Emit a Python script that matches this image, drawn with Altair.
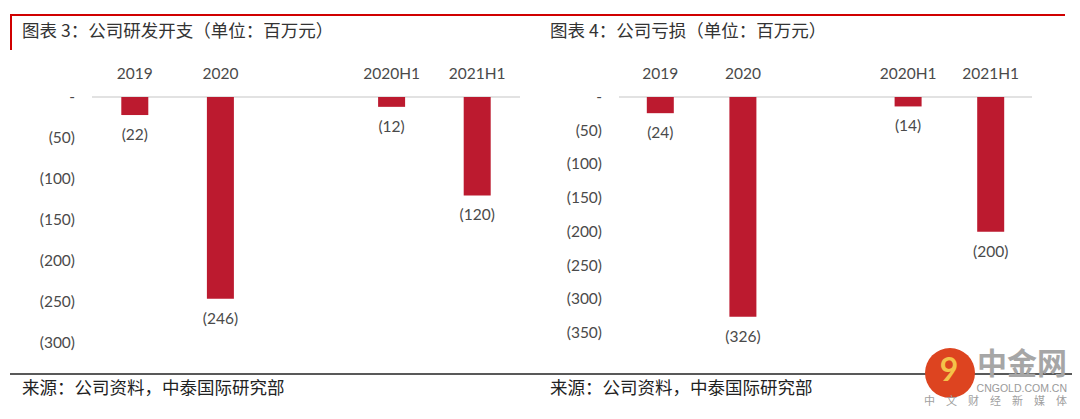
import altair as alt
import pandas as pd

# ---- data ----
categories = ["2019", "2020", " ", "2020H1", "2021H1"]
rd_values = [-22, -246, None, -12, -120]
loss_values = [-24, -326, None, -14, -200]
rd_ticks = [0, -50, -100, -150, -200, -250, -300]
loss_ticks = [0, -50, -100, -150, -200, -250, -300, -350]
titles = ["图表 3：公司研发开支（单位：百万元）", "图表 4：公司亏损（单位：百万元）"]
source_text = "来源：公司资料，中泰国际研究部"

BAR = "#BC1A2F"
RED = "#D00000"
LBL = "#4a4a4a"
CJK = "Noto Sans CJK SC"
LAT = "Lato"
PW, PH = 532, 403


def fmt(v):
    return "-" if v == 0 else f"({-v:g})"


def panel(title, values, ticks, ydom, yrange, xrange, tick_x, left_panel):
    df = pd.DataFrame({"cat": categories, "v": values})
    df = df.dropna()
    df["lab"] = [fmt(v) for v in df["v"]]
    tdf = pd.DataFrame({"t": ticks, "lab": [fmt(t) for t in ticks]})
    cdf = pd.DataFrame({"cat": [c for c in categories if c.strip()]})

    step = (xrange[1] - xrange[0]) / len(categories)
    pin = 1 - 27 / step
    xs = alt.Scale(domain=categories, range=xrange, paddingInner=pin, paddingOuter=pin / 2)
    ys = alt.Scale(domain=ydom, range=yrange, zero=False, nice=False)

    base = alt.Chart(df)
    bars = base.mark_bar(color=BAR).encode(
        x=alt.X("cat:N", scale=xs, axis=None, sort=categories),
        y=alt.Y("v:Q", scale=ys, axis=None),
        y2=alt.datum(0),
    )
    vlabels = base.mark_text(font=LAT, fontSize=15.5, color=LBL, baseline="middle", dy=20).encode(
        x=alt.X("cat:N", scale=xs, axis=None, sort=categories),
        y=alt.Y("v:Q", scale=ys, axis=None),
        text="lab:N",
    )
    zero = alt.Chart(pd.DataFrame({"z": [0]})).mark_rule(color="#d9d9d9", strokeWidth=1.5).encode(
        y=alt.Y("z:Q", scale=ys, axis=None),
        x=alt.value(xrange[0]),
        x2=alt.value(xrange[1]),
    )
    tlabels = alt.Chart(tdf).mark_text(font=LAT, fontSize=15.5, color=LBL, align="right", baseline="middle").encode(
        y=alt.Y("t:Q", scale=ys, axis=None),
        x=alt.value(tick_x),
        text="lab:N",
    )
    clabels = alt.Chart(cdf).mark_text(font=LAT, fontSize=15.5, color=LBL, baseline="middle").encode(
        x=alt.X("cat:N", scale=xs, axis=None, sort=categories),
        y=alt.value(66),
        text="cat:N",
    )
    one = pd.DataFrame({"a": [0]})
    x0 = 2 if left_panel else 0
    x1 = PW if left_panel else 525
    top = alt.Chart(one).mark_rect(color=RED).encode(
        x=alt.value(x0), x2=alt.value(x1), y=alt.value(6), y2=alt.value(8)
    )
    foot = alt.Chart(one).mark_rect(color="#222222").encode(
        x=alt.value(x0), x2=alt.value(PW), y=alt.value(365.25), y2=alt.value(366.75)
    )
    tx = 14 if left_panel else 10
    ttl = alt.Chart(one).mark_text(font=CJK, fontSize=17.5, color="#333333", align="left", baseline="middle").encode(
        x=alt.value(tx), y=alt.value(24), text=alt.value(title)
    )
    src = alt.Chart(one).mark_text(font=CJK, fontSize=17.5, color="#222222", align="left", baseline="middle").encode(
        x=alt.value(tx), y=alt.value(381), text=alt.value(source_text)
    )
    layers = [top, foot, ttl, src, zero, bars, vlabels, tlabels, clabels]
    if left_panel:
        vert = alt.Chart(one).mark_rect(color=RED).encode(
            x=alt.value(2), x2=alt.value(4), y=alt.value(6), y2=alt.value(42)
        )
        layers.append(vert)
    else:
        circ = alt.Chart(one).mark_circle(color="#DD4420", opacity=1, size=2500).encode(
            x=alt.value(410), y=alt.value(365)
        )
        nine = alt.Chart(one).mark_text(font=LAT, fontWeight="bold", fontSize=32, color="#F4C24A", baseline="middle").encode(
            x=alt.value(409), y=alt.value(363), text=alt.value("9")
        )
        brand = alt.Chart(one).mark_text(font=CJK, fontWeight="bold", fontSize=30, color="#a6a6a6", align="right", baseline="middle").encode(
            x=alt.value(527), y=alt.value(357), text=alt.value("中金网")
        )
        site = alt.Chart(one).mark_text(font="Liberation Sans", fontSize=10.5, color="#9a9a9a", align="right", baseline="middle").encode(
            x=alt.value(527), y=alt.value(381), text=alt.value("CNGOLD.COM.CN")
        )
        slogan = alt.Chart(one).mark_text(font=CJK, fontSize=11, color="#a0a0a0", align="right", baseline="middle").encode(
            x=alt.value(527), y=alt.value(394), text=alt.value("中\u3000文\u3000财\u3000经\u3000新\u3000媒\u3000体")
        )
        layers += [circ, nine, brand, site, slogan]
    return alt.layer(*layers).properties(width=PW, height=PH)


left = panel(titles[0], rd_values, rd_ticks, [-300, 0], [335, 89], [84, 512], 67, True)
right = panel(titles[1], loss_values, loss_ticks, [-350, 0], [325, 89], [79, 492], 62, False)

chart = (
    alt.hconcat(left, right, spacing=0)
    .properties(padding=0)
    .configure_view(stroke=None)
)
chart.save("out.html", embed_options={"renderer": "svg", "actions": False})
